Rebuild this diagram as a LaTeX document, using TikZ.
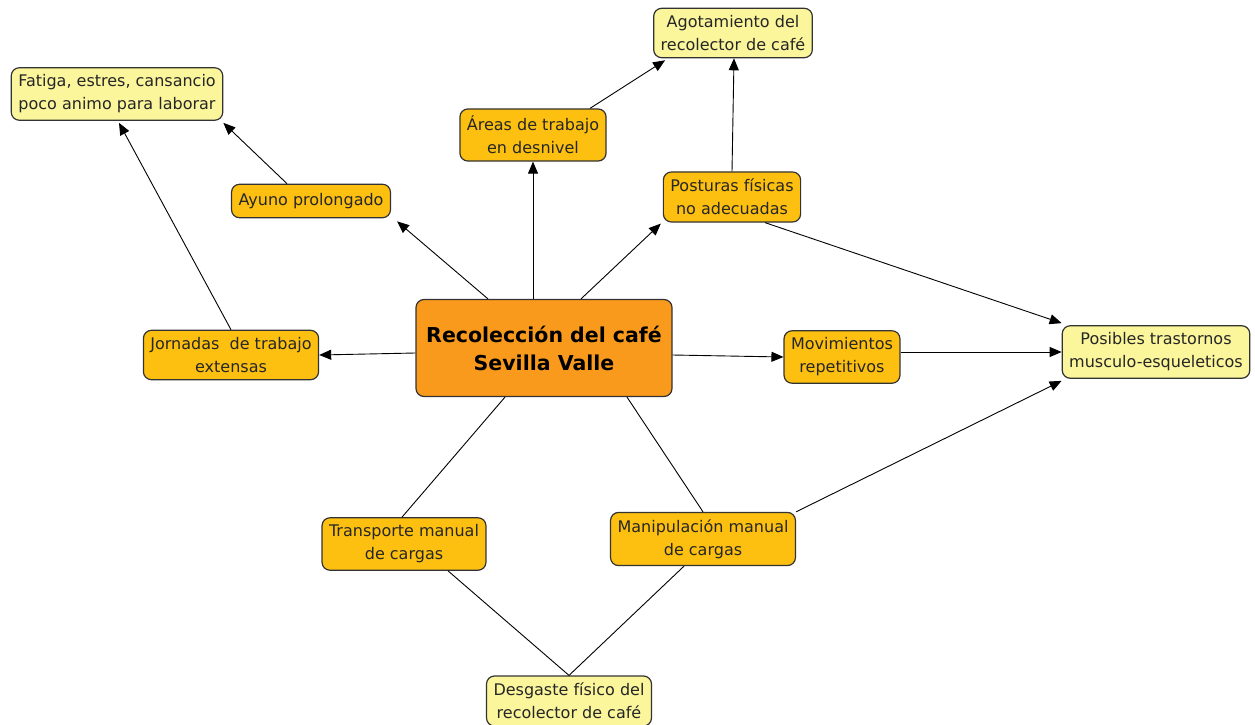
\documentclass[tikz,border=0pt]{standalone}
\usepackage{fontspec}
\setmainfont{DejaVu Sans}
\usetikzlibrary{arrows.meta}
\definecolor{hubfill}{HTML}{F99A1C}
\definecolor{midfill}{HTML}{FDC010}
\definecolor{endfill}{HTML}{FBF69C}
\definecolor{boxline}{HTML}{333333}
\begin{document}
\begin{tikzpicture}[x=1pt,y=-1pt,
  box/.style={draw=boxline,line width=1.2pt,rounded corners=8pt,align=center,
    inner xsep=7pt,inner ysep=7pt,font=\fontsize{16}{23}\selectfont,text=black!85},
  mid/.style={box,fill=midfill},
  goal/.style={box,fill=endfill},
  hub/.style={box,fill=hubfill,font=\fontsize{20.5}{28}\selectfont\bfseries,text=black,
    minimum width=256pt,minimum height=97pt},
  link/.style={line width=0.9pt},
  arr/.style={link,-{Triangle[length=12pt,width=10pt]}}]
\useasboundingbox (0,0) rectangle (1255,725);

\node[hub] (hub) at (544,348) {Recolección del café\\Sevilla Valle};

\node[goal] (fatiga) at (117,94) {Fatiga, estres, cansancio\\poco animo para laborar};
\node[goal] (agota) at (733,33) {Agotamiento del\\recolector de café};
\node[goal] (tras) at (1156,352) {Posibles trastornos\\musculo-esqueleticos};
\node[goal] (desg) at (569,701) {Desgaste físico del\\recolector de café};

\node[mid] (areas) at (533,135) {Áreas de trabajo\\en desnivel};
\node[mid,inner ysep=9pt] (ayuno) at (311,201) {Ayuno prolongado};
\node[mid] (post) at (732,197) {Posturas físicas\\no adecuadas};
\node[mid] (jorn) at (231,355) {Jornadas~ de trabajo\\extensas};
\node[mid] (movi) at (842,357) {Movimientos\\repetitivos};
\node[mid] (trans) at (404,544) {Transporte manual\\de cargas};
\node[mid] (mani) at (703,539) {Manipulación manual\\de cargas};

\draw[arr] ([xshift=-56pt]hub.north) -- ([shift={(6pt,-3pt)}]ayuno.south east);
\draw[arr] ([xshift=-24pt]ayuno.north) -- ([shift={(0pt,-2pt)}]fatiga.south east);
\draw[arr] ([xshift=-11pt]hub.north) -- (areas.south);
\draw[arr] ([xshift=57pt]areas.north) -- ([xshift=12pt,yshift=-2pt]agota.south west);
\draw[arr] ([xshift=37pt]hub.north) -- ([shift={(-2pt,-1pt)}]post.south west);
\draw[arr] (post.north) -- ([xshift=1pt]agota.south);
\draw[arr] ([xshift=33pt]post.south) -- ([yshift=2pt]tras.north west);
\draw[arr] ([yshift=-5pt]hub.west) -- (jorn.east);
\draw[arr] (jorn.north) -- ([xshift=2pt,yshift=-2pt]fatiga.south);
\draw[arr] ([yshift=-7pt]hub.east) -- (movi.west);
\draw[arr] ([yshift=5pt]movi.east) -- (tras.west);
\draw[arr] (mani.north east) -- ([yshift=-2pt]tras.south west);
\draw[link] ([xshift=-39pt]hub.south) -- ([xshift=-2pt]trans.north);
\draw[link] ([xshift=83pt]hub.south) -- (mani.north);
\draw[link] ([xshift=44pt]trans.south) -- (desg.north);
\draw[link] ([xshift=-19pt]mani.south) -- (desg.north);
\end{tikzpicture}
\end{document}
